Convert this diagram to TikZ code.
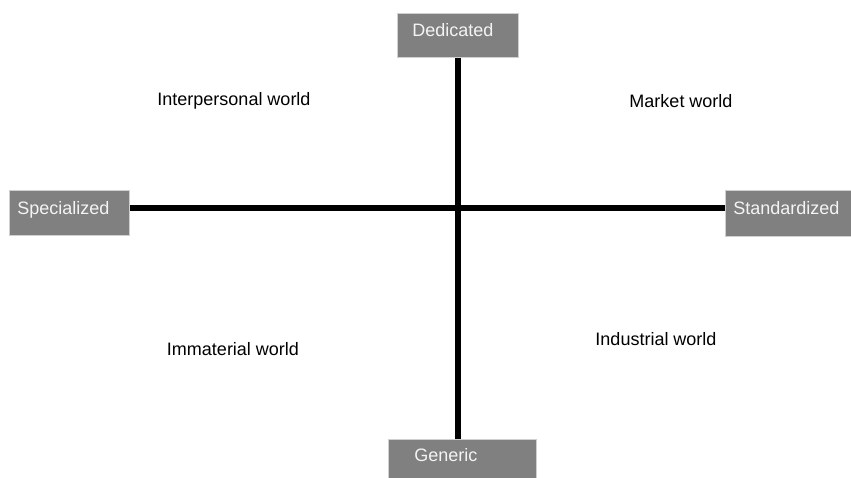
\documentclass[tikz,border=0pt]{standalone}
\usepackage{fontspec}
\setmainfont{Liberation Sans}
\usepackage{xcolor}
\usepackage{tikz}
\usetikzlibrary{positioning}

\definecolor{boxgray}{HTML}{808080}
\definecolor{boxedge}{HTML}{D0D0D0}
\definecolor{boxtext}{HTML}{F4F4F4}

\begin{document}
\begin{tikzpicture}
		[x=1pt,y=-1pt,font=\fontsize{18}{21}\selectfont,
		axisbox/.style={anchor=north west,fill=boxgray,draw=boxedge,line width=0.8pt,
			text=boxtext,align=left,text height=13pt,text depth=10pt},
		world/.style={text=black},
		axis/.style={line width=6pt,black}]
		\useasboundingbox (0,0) rectangle (851,478);
		% the four poles
		\node[axisbox,inner xsep=15pt,text width=91pt,minimum height=44pt] (ded) at (397,13) {Dedicated};
		\node[axisbox,inner xsep=8pt,text width=104pt,minimum height=45pt] (spe) at (9,190) {Specialized};
		\node[axisbox,inner xsep=8pt,text width=110pt,minimum height=46pt] (sta) at (725,190) {Standardized};
		\node[axisbox,inner xsep=26pt,text width=96pt,minimum height=42pt] (gen) at (388,439) {Generic};
		\coordinate (mid) at (458,208);
		% axes
		\draw[axis] (spe.east |- mid) -- (sta.west |- mid);
		\draw[axis] (ded.south -| mid) -- (gen.north -| mid);
		% quadrants
		\node[world] (inter) at (234,101) {Interpersonal world};
		\node[world] (market) at (681,101) {Market world};
		\node[world] (immat) at (233,349) {Immaterial world};
		\node[world] (indus) at (656,339) {Industrial world};
\end{tikzpicture}
\end{document}
